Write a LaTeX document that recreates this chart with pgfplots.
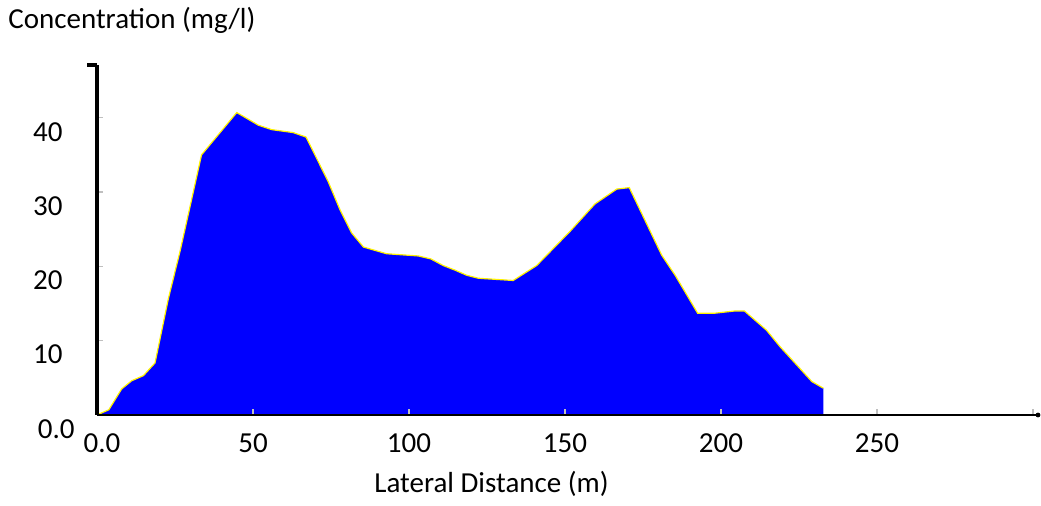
\documentclass[border=0pt]{standalone}
\usepackage{fontspec}
\setmainfont{Carlito}
\usepackage{pgfplots}
\usepackage{pgfplotstable}
\pgfplotsset{compat=1.18}

\newcommand\lbl{\fontsize{14.5}{17}\selectfont}

% lateral profile: distance (m), concentration (mg/l)
\pgfplotstableread{
x y
0 0
3.8 0.7
7.9 3.5
11.1 4.6
14.9 5.3
18.6 7.0
22.9 15.7
26.6 22.0
29.8 28.0
33.5 35.0
44.8 40.7
51.7 39.0
56.0 38.4
62.9 38.0
67.0 37.4
74.1 31.4
77.9 27.6
81.6 24.5
85.4 22.6
92.8 21.7
103.0 21.4
107.0 21.0
111.0 20.1
114.7 19.5
118.5 18.8
122.2 18.4
133.4 18.1
140.9 20.1
151.6 24.7
159.6 28.4
166.6 30.4
170.6 30.6
181.0 21.5
185.3 18.8
192.5 13.7
198.1 13.7
204.5 14.0
207.5 14.0
214.6 11.4
218.9 9.2
229.1 4.5
232.8 3.6
}\profile

\begin{document}
\begin{tikzpicture}
\path[use as bounding box] (-48.5pt,-45.5pt) rectangle (472pt,207.5pt);
\begin{axis}[
    scale only axis,
    width=470.5pt, height=175pt,
    xmin=0, xmax=301.6, ymin=0, ymax=47.1,
    axis x line*=bottom, axis y line*=left,
    x axis line style={line width=1.4pt},
    y axis line style={line width=1.6pt},
    axis on top, clip=false,
    xtick={0,50,...,300},
    xticklabels={{\kern5pt 0.0},50,100,150,200,250,{}},
    ytick={0,10,20,30,40},
    yticklabels={{0.0\kern-6pt},10,20,30,40},
    tick align=inside,
    major tick length=3pt,
    tick style={gray!50, line width=0.6pt},
    /pgf/number format/assume math mode=true,
    xticklabel style={font=\lbl, anchor=north, inner sep=0pt, yshift=-9pt},
    yticklabel style={font=\lbl, anchor=east, inner sep=0pt, xshift=-17pt, yshift=-7pt},
  ]
  \addplot[fill=blue, draw=none] table {\profile} \closedcycle;
  \addplot[yellow, line width=0.6pt] table {\profile};
  \draw[line width=1.6pt] (rel axis cs:0,1) -- ++(-5pt,0);
  \fill (rel axis cs:1,0) circle (1.2pt);
  \node[font=\lbl, anchor=base west, inner sep=0pt] at ([shift={(-44.5pt,193pt)}]rel axis cs:0,0) {Concentration (mg/l)};
  \node[font=\lbl, anchor=base, inner sep=0pt] at ([shift={(197.25pt,-39pt)}]rel axis cs:0,0) {Lateral Distance (m)};
\end{axis}
\end{tikzpicture}
\end{document}
